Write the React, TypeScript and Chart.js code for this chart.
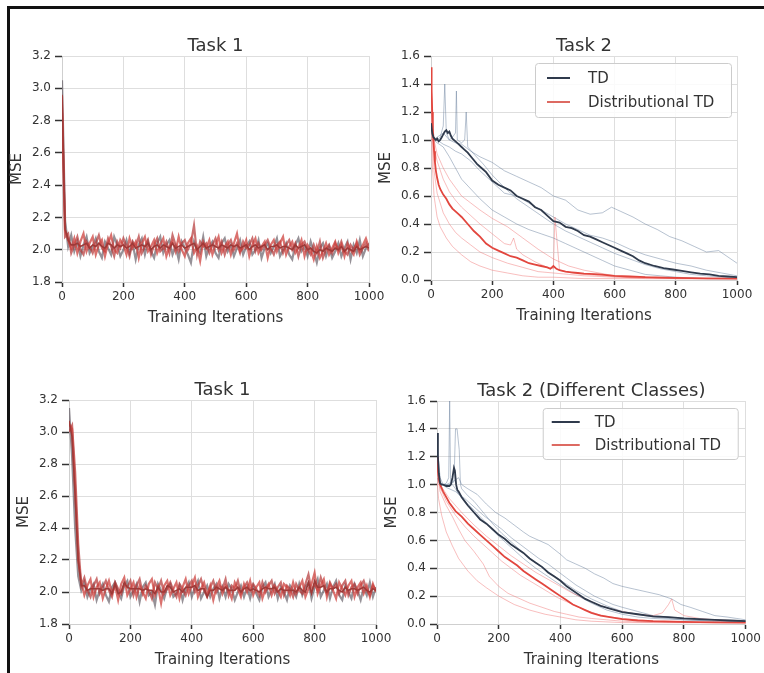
import React, { useEffect, useRef } from "react";
import { Chart, registerables } from "chart.js";
Chart.register(...registerables);

const FONT = "'DejaVu Sans', sans-serif";

// ---------- Task 1 (sampled every 10 iterations) ----------
const T1_ITERS = Array.from({ length: 101 }, (_, i) => i * 10);

const TL_RUN_A = [
  2.95, 2.12, 2.06, 2.01, 2.07, 1.98, 2.05, 2.1, 1.99, 2.04,
  2.08, 1.97, 2.03, 2.06, 1.96, 2.04, 2.09, 2.0, 1.98, 2.06,
  2.03, 1.97, 2.07, 2.01, 2.05, 1.95, 2.04, 2.08, 1.99, 2.02,
  2.06, 1.98, 2.03, 2.07, 1.96, 2.02, 2.05, 1.99, 2.08, 2.0,
  1.96, 2.04, 2.07, 1.98, 2.02, 1.93, 2.05, 2.01, 2.06, 1.97,
  2.03, 2.08, 1.98, 2.02, 2.05, 1.97, 2.04, 2.1, 1.99, 2.01,
  2.06, 1.96, 2.03, 2.07, 1.98, 2.02, 2.05, 1.95, 2.03, 2.06,
  1.99, 2.04, 2.08, 1.97, 2.02, 2.05, 1.98, 2.01, 2.06, 1.96,
  2.03, 2.0, 1.94, 2.02, 1.95, 1.99, 2.04, 1.97, 2.01, 2.05,
  1.98, 2.03, 1.96, 2.04, 2.0, 1.97, 2.05, 1.99, 2.03, 2.07,
  2.01,
];
const TL_RUN_B = [
  3.05, 2.18, 2.02, 2.09, 1.99, 2.05, 1.96, 2.03, 2.08, 1.98,
  2.02, 2.07, 1.99, 1.95, 2.05, 2.01, 1.97, 2.08, 2.03, 1.96,
  2.0, 2.06, 1.98, 2.04, 1.94, 2.03, 2.07, 1.97, 2.05, 1.99,
  1.95, 2.04, 2.08, 1.98, 2.03, 2.06, 1.97, 2.02, 1.94, 2.05,
  2.01, 1.97, 1.92, 2.05, 2.0, 1.98, 2.08, 1.96, 2.02, 2.05,
  1.98, 1.95, 2.04, 2.07, 1.99, 2.03, 1.96, 2.01, 2.06, 1.97,
  2.02, 2.05, 1.97, 2.0, 2.06, 1.95, 2.01, 2.04, 1.98, 2.02,
  2.07, 1.96, 2.0, 2.04, 1.97, 1.94, 2.03, 2.07, 1.99, 2.02,
  1.96, 2.05, 1.99, 1.92, 2.01, 2.04, 1.96, 2.02, 1.95, 1.99,
  2.04, 1.96, 2.01, 2.05, 1.94, 2.03, 1.98, 2.06, 1.96, 2.01,
  2.04,
];
const TL_RUN_C = [
  2.85, 2.08, 2.1, 1.98, 2.03, 2.08, 2.0, 1.97, 2.05, 2.02,
  1.98, 2.04, 2.09, 2.01, 1.99, 2.07, 2.02, 1.96, 2.05, 2.01,
  2.07, 2.02, 1.96, 2.05, 2.02, 2.08, 1.98, 2.02, 2.06, 1.97,
  2.03, 2.07, 1.99, 2.01, 2.05, 1.98, 2.09, 2.03, 1.99, 2.04,
  2.06, 2.0, 2.04, 2.15, 1.97, 2.05, 2.02, 2.04, 1.98, 2.03,
  2.07, 2.0, 2.05, 1.97, 2.03, 2.06, 2.0, 2.04, 1.98, 2.05,
  2.01, 2.03, 2.07, 1.99, 2.04, 2.0, 2.03, 2.06, 2.01, 1.97,
  2.03, 2.05, 1.98, 2.03, 2.06, 2.0, 2.04, 1.96, 2.03, 2.05,
  2.0, 1.97, 2.03, 1.98, 2.05, 1.95, 2.0, 2.03, 1.98, 2.04,
  2.0, 2.05, 1.99, 1.97, 2.03, 2.0, 2.04, 1.97, 2.01, 2.04,
  1.99,
];
const TL_MEAN = [
  2.96, 2.13, 2.06, 2.03, 2.03, 2.04, 2.02, 2.03, 2.04, 2.01,
  2.03, 2.02, 2.04, 2.02, 2.01, 2.04, 2.03, 2.01, 2.03, 2.02,
  2.03, 2.01, 2.02, 2.04, 2.01, 2.02, 2.03, 2.02, 2.04, 2.0,
  2.02, 2.03, 2.01, 2.03, 2.02, 2.01, 2.04, 2.01, 2.02, 2.03,
  2.01, 2.02, 2.03, 2.04, 2.0, 2.02, 2.04, 2.01, 2.02, 2.03,
  2.02, 2.01, 2.03, 2.02, 2.01, 2.03, 2.02, 2.03, 2.01, 2.02,
  2.03, 2.0, 2.02, 2.03, 2.01, 2.02, 2.03, 2.0, 2.02, 2.02,
  2.03, 2.01, 2.02, 2.02, 2.01, 2.0, 2.03, 2.01, 2.02, 2.03,
  2.0, 2.01, 1.99, 1.98, 2.0, 1.99, 2.01, 2.0, 1.99, 2.01,
  2.0, 2.02, 1.99, 2.01, 2.0, 1.99, 2.02, 2.0, 2.01, 2.02,
  2.01,
];

const BL_RUN_A = [
  3.05, 3.02, 2.65, 2.2, 2.06, 1.98, 2.04, 2.08, 1.97, 2.03,
  2.06, 1.96, 2.02, 2.07, 1.99, 2.04, 1.95, 2.05, 2.09, 1.98,
  2.02, 2.06, 1.97, 2.04, 2.0, 1.96, 2.05, 2.08, 1.98, 2.03,
  1.93, 2.04, 2.07, 1.98, 2.02, 2.06, 1.96, 2.03, 2.08, 1.99,
  2.04, 2.09, 1.97, 2.02, 2.06, 1.98, 2.04, 1.95, 2.03, 2.07,
  1.99, 2.04, 2.01, 1.96, 2.06, 2.02, 1.97, 2.05, 2.0, 2.07,
  1.98, 2.03, 2.06, 1.96, 2.02, 2.05, 1.98, 2.04, 2.01, 1.97,
  2.05, 2.03, 1.98, 2.06, 1.99, 2.03, 2.07, 1.97, 2.02, 2.05,
  2.12, 1.99, 2.04, 2.08, 1.97, 2.05, 2.01, 1.96, 2.06, 2.02,
  1.98, 2.04, 2.07, 1.97, 2.03, 2.06, 1.99, 2.04, 1.97, 2.05,
  2.0,
];
const BL_RUN_B = [
  3.15, 2.85, 2.4, 2.1, 2.01, 2.06, 1.97, 2.02, 2.05, 1.95,
  2.01, 2.05, 1.98, 1.94, 2.03, 2.06, 2.0, 1.96, 2.04, 2.07,
  1.97, 2.01, 2.05, 1.94, 2.03, 2.06, 1.98, 2.0, 1.92, 2.05,
  2.01, 1.96, 2.03, 2.05, 1.97, 1.99, 2.04, 1.95, 2.02, 2.06,
  1.97, 2.03, 2.07, 1.96, 2.0, 2.04, 1.97, 2.02, 2.05, 1.96,
  2.03, 1.97, 2.05, 2.02, 1.95, 2.0, 2.04, 1.97, 2.03, 1.96,
  2.04, 1.99, 1.95, 2.03, 2.06, 1.97, 2.01, 2.05, 1.96, 2.03,
  2.0, 1.95, 2.04, 2.01, 1.97, 2.05, 1.98, 2.03, 2.06, 1.96,
  2.03, 2.08, 1.97, 2.01, 2.05, 1.96, 2.03, 2.07, 1.98, 1.95,
  2.04, 2.0, 1.96, 2.05, 2.01, 1.95, 2.03, 1.98, 2.06, 1.97,
  2.03,
];
const BL_RUN_C = [
  3.0, 3.04, 2.75, 2.3, 2.04, 2.09, 2.01, 1.97, 2.04, 2.08,
  1.99, 2.03, 2.07, 2.01, 1.97, 2.06, 2.02, 1.99, 2.05, 2.03,
  2.07, 1.98, 2.04, 2.08, 1.99, 2.04, 2.01, 1.96, 2.06, 2.02,
  2.07, 1.99, 2.02, 2.06, 2.01, 1.97, 2.05, 2.02, 1.98, 2.04,
  2.07, 2.0, 2.04, 2.08, 2.01, 1.97, 2.03, 2.07, 2.0, 2.04,
  2.02, 2.08, 1.98, 2.04, 2.02, 2.07, 1.99, 2.03, 2.06, 2.01,
  2.05, 2.02, 1.98, 2.06, 2.0, 2.04, 2.07, 1.99, 2.03, 2.06,
  1.98, 2.04, 2.02, 1.97, 2.05, 2.01, 1.99, 2.05, 2.11, 2.01,
  2.05, 2.01, 2.09, 2.03, 1.99, 2.06, 2.02, 2.05, 1.99, 2.04,
  2.07, 1.98, 2.03, 2.05, 1.99, 2.04, 2.07, 2.01, 1.98, 2.04,
  2.01,
];
const BL_MEAN = [
  3.07, 2.97, 2.6, 2.2, 2.04, 2.04, 2.01, 2.02, 2.02, 2.02,
  2.02, 2.01, 2.02, 2.02, 1.99, 2.05, 1.99, 2.0, 2.06, 2.03,
  2.02, 2.02, 2.02, 2.02, 2.01, 2.02, 2.01, 2.01, 1.99, 2.03,
  2.0, 2.0, 2.04, 2.03, 2.0, 2.01, 2.02, 2.0, 2.03, 2.03,
  2.03, 2.04, 2.01, 2.02, 2.02, 1.97, 2.01, 2.01, 2.03, 2.02,
  2.01, 2.03, 2.01, 2.01, 2.01, 2.03, 2.0, 2.02, 2.03, 2.01,
  2.02, 2.01, 2.0, 2.02, 2.03, 2.02, 2.02, 2.03, 2.0, 2.02,
  2.01, 2.01, 2.01, 2.01, 2.0, 2.03, 2.01, 2.0, 2.06, 1.99,
  2.07, 2.03, 2.03, 2.04, 2.0, 2.02, 2.02, 2.03, 2.01, 2.0,
  2.03, 2.01, 2.02, 2.02, 2.01, 2.02, 2.03, 2.01, 2.0, 2.02,
  2.01,
];

// ---------- Task 2 (top right) ----------
const TR_TD_MEAN_X = [0, 4, 8, 12, 16, 20, 25, 30, 35, 40, 45, 50, 55, 60, 65, 70, 80, 90, 100, 110, 120, 135, 150, 165, 180, 200, 220, 240, 260, 280, 300, 320, 340, 360, 380, 400, 420, 440, 460, 480, 500, 520, 540, 560, 580, 600, 620, 640, 660, 680, 700, 730, 760, 790, 820, 850, 880, 910, 940, 970, 1000];
const TR_TD_MEAN_Y = [1.12, 1.05, 1.02, 1.01, 1.0, 1.01, 0.99, 1.0, 1.02, 1.04, 1.06, 1.07, 1.05, 1.06, 1.03, 1.01, 0.99, 0.97, 0.95, 0.93, 0.91, 0.87, 0.83, 0.8, 0.77, 0.71, 0.68, 0.66, 0.64, 0.6, 0.58, 0.56, 0.52, 0.5, 0.46, 0.42, 0.41, 0.38, 0.37, 0.35, 0.32, 0.31, 0.29, 0.27, 0.25, 0.23, 0.21, 0.19, 0.17, 0.14, 0.12, 0.1, 0.085, 0.075, 0.065, 0.055, 0.045, 0.04, 0.03, 0.025, 0.02];
const TR_DTD_MEAN_X = [0, 2, 4, 6, 8, 10, 13, 16, 20, 25, 30, 40, 50, 60, 70, 80, 90, 100, 120, 140, 160, 180, 200, 220, 240, 260, 280, 300, 320, 340, 360, 380, 390, 400, 410, 420, 440, 460, 480, 500, 550, 600, 650, 700, 800, 900, 1000];
const TR_DTD_MEAN_Y = [1.52, 1.35, 1.2, 1.08, 1.0, 0.92, 0.84, 0.78, 0.73, 0.68, 0.65, 0.61, 0.58, 0.54, 0.51, 0.49, 0.47, 0.45, 0.4, 0.35, 0.31, 0.26, 0.23, 0.21, 0.19, 0.17, 0.16, 0.14, 0.12, 0.11, 0.1, 0.09, 0.08, 0.1, 0.08, 0.07, 0.06, 0.055, 0.05, 0.045, 0.04, 0.03, 0.025, 0.02, 0.015, 0.012, 0.01];

const TR_TD_RUN1_X = [0, 10, 20, 40, 60, 80, 100, 130, 160, 200, 240, 280, 320, 360, 400, 440, 480, 520, 560, 590, 620, 660, 700, 740, 780, 820, 860, 900, 940, 980, 1000];
const TR_TD_RUN1_Y = [1.1, 1.0, 1.02, 1.05, 1.0, 0.98, 0.97, 0.92, 0.88, 0.84, 0.78, 0.74, 0.7, 0.66, 0.6, 0.57, 0.5, 0.47, 0.48, 0.52, 0.49, 0.45, 0.4, 0.36, 0.31, 0.28, 0.24, 0.2, 0.21, 0.15, 0.12];
const TR_TD_RUN2_X = [0, 10, 20, 30, 40, 45, 50, 60, 70, 80, 83, 86, 100, 110, 115, 120, 140, 170, 200, 240, 280, 320, 360, 400, 440, 480, 520, 560, 600, 650, 700, 750, 800, 850, 900, 950, 1000];
const TR_TD_RUN2_Y = [1.05, 1.0, 1.0, 1.02, 1.1, 1.4, 1.05, 1.0, 1.02, 1.05, 1.35, 1.0, 0.98, 1.0, 1.2, 0.95, 0.9, 0.83, 0.75, 0.66, 0.58, 0.52, 0.46, 0.4, 0.35, 0.31, 0.27, 0.23, 0.19, 0.15, 0.11, 0.08, 0.06, 0.04, 0.03, 0.02, 0.02];
const TR_TD_RUN3_X = [0, 10, 20, 40, 60, 80, 100, 130, 160, 200, 240, 280, 320, 360, 400, 440, 480, 520, 560, 600, 650, 700, 750, 800, 900, 1000];
const TR_TD_RUN3_Y = [1.08, 1.0, 0.98, 0.95, 0.88, 0.8, 0.72, 0.65, 0.58, 0.5, 0.45, 0.4, 0.36, 0.33, 0.3, 0.26, 0.22, 0.18, 0.14, 0.1, 0.07, 0.04, 0.03, 0.02, 0.01, 0.01];
const TR_TD_RUN4_X = [0, 10, 20, 40, 60, 80, 100, 130, 160, 200, 240, 280, 320, 360, 400, 440, 480, 520, 560, 600, 650, 700, 750, 800, 850, 900, 950, 1000];
const TR_TD_RUN4_Y = [1.0, 1.01, 1.0, 0.97, 0.95, 0.92, 0.9, 0.85, 0.78, 0.7, 0.62, 0.6, 0.55, 0.5, 0.45, 0.4, 0.36, 0.32, 0.3, 0.27, 0.22, 0.18, 0.15, 0.12, 0.1, 0.07, 0.05, 0.03];

const TR_DTD_RUN1_X = [0, 5, 10, 20, 30, 50, 70, 100, 130, 160, 200, 250, 300, 350, 400, 500, 600, 800, 1000];
const TR_DTD_RUN1_Y = [1.2, 0.8, 0.6, 0.45, 0.38, 0.3, 0.24, 0.18, 0.13, 0.1, 0.07, 0.05, 0.03, 0.02, 0.02, 0.01, 0.01, 0.01, 0.01];
const TR_DTD_RUN2_X = [0, 5, 10, 20, 40, 60, 80, 100, 130, 160, 200, 240, 260, 270, 280, 300, 340, 380, 400, 405, 420, 460, 500, 560, 620, 700, 800, 1000];
const TR_DTD_RUN2_Y = [1.3, 1.05, 0.95, 0.85, 0.72, 0.63, 0.57, 0.52, 0.46, 0.4, 0.33, 0.26, 0.25, 0.3, 0.22, 0.18, 0.13, 0.09, 0.08, 0.45, 0.07, 0.05, 0.04, 0.03, 0.02, 0.01, 0.01, 0.01];
const TR_DTD_RUN3_X = [0, 5, 10, 20, 40, 60, 80, 100, 130, 160, 200, 250, 300, 350, 400, 450, 500, 600, 700, 800, 1000];
const TR_DTD_RUN3_Y = [1.45, 1.0, 0.78, 0.62, 0.48, 0.4, 0.34, 0.3, 0.25, 0.2, 0.16, 0.12, 0.09, 0.06, 0.05, 0.04, 0.03, 0.02, 0.02, 0.01, 0.01];
const TR_DTD_RUN4_X = [0, 5, 10, 20, 40, 60, 80, 100, 130, 160, 200, 250, 300, 350, 400, 450, 500, 550, 600, 650, 700, 800, 900, 1000];
const TR_DTD_RUN4_Y = [1.5, 1.15, 1.0, 0.9, 0.8, 0.72, 0.66, 0.6, 0.55, 0.5, 0.44, 0.38, 0.3, 0.22, 0.15, 0.1, 0.07, 0.05, 0.03, 0.02, 0.02, 0.01, 0.01, 0.01];

// ---------- Task 2 (Different Classes) ----------
const BR_TD_MEAN_X = [0, 3, 6, 10, 15, 20, 30, 40, 45, 50, 55, 58, 62, 66, 70, 80, 90, 100, 120, 140, 160, 180, 200, 220, 240, 260, 280, 300, 320, 340, 360, 380, 400, 420, 440, 460, 480, 500, 530, 560, 600, 650, 700, 750, 800, 850, 900, 950, 1000];
const BR_TD_MEAN_Y = [1.37, 1.2, 1.08, 1.01, 1.0, 1.0, 0.99, 0.99, 1.0, 1.05, 1.12, 1.1, 1.0, 0.96, 0.95, 0.91, 0.88, 0.85, 0.8, 0.75, 0.72, 0.68, 0.64, 0.61, 0.57, 0.54, 0.51, 0.47, 0.44, 0.41, 0.37, 0.34, 0.31, 0.27, 0.24, 0.21, 0.18, 0.16, 0.13, 0.11, 0.085, 0.07, 0.055, 0.05, 0.04, 0.035, 0.03, 0.025, 0.02];
const BR_DTD_MEAN_X = [0, 3, 6, 10, 20, 30, 40, 60, 80, 100, 120, 140, 160, 180, 200, 220, 240, 260, 280, 300, 320, 340, 360, 380, 400, 420, 440, 460, 480, 500, 530, 560, 600, 650, 700, 800, 900, 1000];
const BR_DTD_MEAN_Y = [1.2, 1.1, 1.04, 1.0, 0.95, 0.91, 0.87, 0.81, 0.77, 0.72, 0.68, 0.64, 0.6, 0.56, 0.52, 0.48, 0.45, 0.42, 0.38, 0.35, 0.32, 0.29, 0.26, 0.23, 0.2, 0.17, 0.14, 0.12, 0.1, 0.08, 0.06, 0.05, 0.035, 0.025, 0.02, 0.015, 0.012, 0.01];

const BR_TD_RUN1_X = [0, 10, 30, 50, 70, 80, 100, 130, 160, 190, 220, 250, 280, 300, 330, 360, 400, 420, 450, 480, 510, 540, 570, 600, 640, 680, 720, 760, 790, 820, 860, 900, 940, 970, 1000];
const BR_TD_RUN1_Y = [1.05, 1.0, 1.0, 1.02, 1.05, 1.0, 0.97, 0.93, 0.86, 0.8, 0.76, 0.71, 0.66, 0.63, 0.6, 0.57, 0.5, 0.46, 0.43, 0.4, 0.36, 0.33, 0.29, 0.27, 0.25, 0.23, 0.21, 0.18, 0.14, 0.12, 0.09, 0.06, 0.05, 0.04, 0.03];
const BR_TD_RUN2_X = [0, 10, 20, 30, 38, 41, 44, 50, 60, 70, 90, 110, 140, 170, 200, 240, 280, 320, 360, 400, 450, 500, 550, 600, 650, 700, 800, 900, 1000];
const BR_TD_RUN2_Y = [1.1, 1.0, 1.0, 1.01, 1.05, 1.6, 1.02, 1.0, 0.97, 0.93, 0.88, 0.84, 0.77, 0.7, 0.63, 0.55, 0.47, 0.4, 0.34, 0.28, 0.21, 0.15, 0.1, 0.07, 0.05, 0.04, 0.03, 0.02, 0.02];
const BR_TD_RUN3_X = [0, 10, 20, 40, 55, 60, 65, 72, 76, 80, 100, 120, 150, 180, 210, 250, 290, 330, 370, 410, 450, 500, 550, 600, 700, 800, 900, 1000];
const BR_TD_RUN3_Y = [1.3, 1.05, 1.0, 1.0, 1.02, 1.4, 1.4, 1.25, 1.0, 0.97, 0.92, 0.88, 0.8, 0.72, 0.65, 0.57, 0.49, 0.42, 0.36, 0.3, 0.24, 0.18, 0.13, 0.09, 0.05, 0.03, 0.02, 0.02];
const BR_TD_RUN4_X = [0, 10, 30, 60, 90, 120, 150, 180, 210, 240, 270, 300, 330, 360, 390, 420, 450, 480, 510, 540, 570, 600, 650, 700, 750, 800, 850, 900, 950, 1000];
const BR_TD_RUN4_Y = [1.15, 1.02, 0.98, 0.95, 0.9, 0.84, 0.78, 0.73, 0.68, 0.62, 0.57, 0.52, 0.47, 0.43, 0.38, 0.33, 0.28, 0.24, 0.2, 0.17, 0.14, 0.12, 0.09, 0.06, 0.05, 0.04, 0.03, 0.03, 0.02, 0.02];

const BR_DTD_RUN1_X = [0, 10, 30, 50, 70, 90, 120, 150, 170, 200, 230, 260, 300, 340, 380, 420, 460, 500, 550, 600, 700, 800, 1000];
const BR_DTD_RUN1_Y = [1.1, 0.95, 0.85, 0.77, 0.68, 0.6, 0.52, 0.43, 0.34, 0.27, 0.22, 0.19, 0.15, 0.12, 0.09, 0.07, 0.05, 0.04, 0.03, 0.02, 0.01, 0.01, 0.01];
const BR_DTD_RUN2_X = [0, 10, 40, 80, 120, 160, 200, 240, 280, 320, 360, 400, 440, 480, 520, 560, 600, 650, 700, 730, 750, 760, 770, 800, 850, 900, 1000];
const BR_DTD_RUN2_Y = [1.15, 1.0, 0.9, 0.8, 0.71, 0.63, 0.56, 0.49, 0.43, 0.37, 0.32, 0.27, 0.22, 0.18, 0.14, 0.11, 0.09, 0.07, 0.06, 0.08, 0.14, 0.18, 0.1, 0.06, 0.04, 0.03, 0.02];
const BR_DTD_RUN3_X = [0, 10, 30, 60, 90, 120, 150, 180, 210, 240, 270, 300, 330, 360, 390, 420, 450, 480, 520, 560, 600, 700, 800, 1000];
const BR_DTD_RUN3_Y = [1.18, 0.98, 0.88, 0.78, 0.7, 0.63, 0.57, 0.51, 0.45, 0.4, 0.35, 0.31, 0.27, 0.23, 0.19, 0.16, 0.13, 0.1, 0.07, 0.05, 0.04, 0.02, 0.01, 0.01];
const BR_DTD_RUN4_X = [0, 5, 15, 30, 50, 70, 100, 130, 160, 200, 250, 300, 350, 400, 450, 500, 600, 800, 1000];
const BR_DTD_RUN4_Y = [1.05, 0.9, 0.78, 0.66, 0.56, 0.47, 0.38, 0.31, 0.26, 0.2, 0.14, 0.1, 0.07, 0.05, 0.03, 0.02, 0.01, 0.01, 0.01];

const X_TICK_STEP = 200;
const LEGEND_LABELS = ["TD", "Distributional TD"];

// ---------- styles ----------
const C_TD_MEAN = "#2f3a4c";
const C_DTD_MEAN = "#e2463e";
const C_TD_RUN = "rgba(95,120,150,0.45)";
const C_DTD_RUN = "rgba(240,110,110,0.45)";
const C_T1_MEAN = "#9e3a38";
const C_T1_RED = "rgba(205,66,62,0.75)";
const C_T1_RED2 = "rgba(180,52,52,0.7)";
const C_T1_DARK = "rgba(80,72,82,0.6)";
const T1_W = 2.2;

type Run = { xs: number[]; ys: number[]; color: string; width: number };
type Area = { left: number; top: number; right: number; bottom: number };
type LegendCfg = { offRight: number; offTop: number; w: number; h: number; l0: number; l1: number; tx: number; y1: number; y2: number };
type PanelCfg = {
  title: string;
  area: Area;
  yMin: number;
  yMax: number;
  runs: Run[];
  padRight: number;
  legend?: LegendCfg;
};

const t1 = (ys: number[], color: string, width: number): Run => ({ xs: T1_ITERS, ys, color, width });

const PANELS: PanelCfg[] = [
  {
    title: "Task 1",
    area: { left: 62, top: 56, right: 369, bottom: 282 },
    yMin: 1.8,
    yMax: 3.2,
    padRight: 20,
    runs: [
      t1(TL_MEAN, C_T1_MEAN, 1.6),
      t1(TL_RUN_A, C_T1_RED, T1_W),
      t1(TL_RUN_C, C_T1_RED2, T1_W),
      t1(TL_RUN_B, C_T1_DARK, T1_W),
    ],
  },
  {
    title: "Task 2",
    area: { left: 431, top: 56, right: 737, bottom: 280 },
    yMin: 0,
    yMax: 1.6,
    padRight: 20,
    legend: { offRight: 6, offTop: 7, w: 196, h: 54, l0: 12, l1: 35, tx: 53, y1: 15, y2: 39 },
    runs: [
      { xs: TR_TD_MEAN_X, ys: TR_TD_MEAN_Y, color: C_TD_MEAN, width: 1.8 },
      { xs: TR_DTD_MEAN_X, ys: TR_DTD_MEAN_Y, color: C_DTD_MEAN, width: 1.8 },
      { xs: TR_DTD_RUN1_X, ys: TR_DTD_RUN1_Y, color: C_DTD_RUN, width: 1 },
      { xs: TR_DTD_RUN2_X, ys: TR_DTD_RUN2_Y, color: C_DTD_RUN, width: 1 },
      { xs: TR_DTD_RUN3_X, ys: TR_DTD_RUN3_Y, color: C_DTD_RUN, width: 1 },
      { xs: TR_DTD_RUN4_X, ys: TR_DTD_RUN4_Y, color: C_DTD_RUN, width: 1 },
      { xs: TR_TD_RUN1_X, ys: TR_TD_RUN1_Y, color: C_TD_RUN, width: 1 },
      { xs: TR_TD_RUN2_X, ys: TR_TD_RUN2_Y, color: C_TD_RUN, width: 1 },
      { xs: TR_TD_RUN3_X, ys: TR_TD_RUN3_Y, color: C_TD_RUN, width: 1 },
      { xs: TR_TD_RUN4_X, ys: TR_TD_RUN4_Y, color: C_TD_RUN, width: 1 },
    ],
  },
  {
    title: "Task 1",
    area: { left: 69, top: 400, right: 376, bottom: 624 },
    yMin: 1.8,
    yMax: 3.2,
    padRight: 20,
    runs: [
      t1(BL_MEAN, C_T1_MEAN, 1.6),
      t1(BL_RUN_A, C_T1_RED, T1_W),
      t1(BL_RUN_C, C_T1_RED2, T1_W),
      t1(BL_RUN_B, C_T1_DARK, T1_W),
    ],
  },
  {
    title: "Task 2 (Different Classes)",
    area: { left: 437, top: 401, right: 746, bottom: 624 },
    yMin: 0,
    yMax: 1.6,
    padRight: 18,
    legend: { offRight: 8, offTop: 7, w: 195, h: 51, l0: 9, l1: 37, tx: 52, y1: 14, y2: 37 },
    runs: [
      { xs: BR_TD_MEAN_X, ys: BR_TD_MEAN_Y, color: C_TD_MEAN, width: 1.8 },
      { xs: BR_DTD_MEAN_X, ys: BR_DTD_MEAN_Y, color: C_DTD_MEAN, width: 1.8 },
      { xs: BR_DTD_RUN1_X, ys: BR_DTD_RUN1_Y, color: C_DTD_RUN, width: 1 },
      { xs: BR_DTD_RUN2_X, ys: BR_DTD_RUN2_Y, color: C_DTD_RUN, width: 1 },
      { xs: BR_DTD_RUN3_X, ys: BR_DTD_RUN3_Y, color: C_DTD_RUN, width: 1 },
      { xs: BR_DTD_RUN4_X, ys: BR_DTD_RUN4_Y, color: C_DTD_RUN, width: 1 },
      { xs: BR_TD_RUN1_X, ys: BR_TD_RUN1_Y, color: C_TD_RUN, width: 1 },
      { xs: BR_TD_RUN2_X, ys: BR_TD_RUN2_Y, color: C_TD_RUN, width: 1 },
      { xs: BR_TD_RUN3_X, ys: BR_TD_RUN3_Y, color: C_TD_RUN, width: 1 },
      { xs: BR_TD_RUN4_X, ys: BR_TD_RUN4_Y, color: C_TD_RUN, width: 1 },
    ],
  },
];

const PAD_L = 62;
const PAD_T = 40;
const PAD_B = 50;

function Panel({ cfg }: { cfg: PanelCfg }) {
  const ref = useRef<HTMLCanvasElement>(null);
  const w = cfg.area.right - cfg.area.left + PAD_L + cfg.padRight;
  const h = cfg.area.bottom - cfg.area.top + PAD_T + PAD_B;

  useEffect(() => {
    const decor = {
      id: "decor",
      afterDraw(chart: any) {
        const { ctx, chartArea: a } = chart;
        ctx.save();
        ctx.fillStyle = "#333";
        ctx.font = `18px ${FONT}`;
        ctx.textAlign = "center";
        ctx.textBaseline = "alphabetic";
        ctx.fillText(cfg.title, (a.left + a.right) / 2, a.top - 5);
        const lg = cfg.legend;
        if (lg) {
          const bx = a.right - lg.offRight - lg.w;
          const by = a.top + lg.offTop;
          ctx.beginPath();
          if ((ctx as any).roundRect) (ctx as any).roundRect(bx + 0.5, by + 0.5, lg.w, lg.h, 3);
          else ctx.rect(bx + 0.5, by + 0.5, lg.w, lg.h);
          ctx.fillStyle = "rgba(255,255,255,0.85)";
          ctx.fill();
          ctx.strokeStyle = "#cccccc";
          ctx.lineWidth = 1;
          ctx.stroke();
          const cols = [C_TD_MEAN, "#dd6a62"];
          const ys = [lg.y1, lg.y2];
          ctx.font = `15px ${FONT}`;
          ctx.textAlign = "left";
          ctx.textBaseline = "middle";
          LEGEND_LABELS.forEach((lab, i) => {
            ctx.beginPath();
            ctx.strokeStyle = cols[i];
            ctx.lineWidth = 2;
            ctx.moveTo(bx + lg.l0, by + ys[i]);
            ctx.lineTo(bx + lg.l1, by + ys[i]);
            ctx.stroke();
            ctx.fillStyle = "#333";
            ctx.fillText(lab, bx + lg.tx, by + ys[i] + 1);
          });
        }
        ctx.restore();
      },
    };

    const chart = new Chart(ref.current as HTMLCanvasElement, {
      type: "line",
      data: {
        datasets: cfg.runs.map((r) => ({
          data: r.xs.map((x, i) => ({ x, y: r.ys[i] })),
          borderColor: r.color,
          borderWidth: r.width,
          pointRadius: 0,
          fill: false,
          tension: 0,
        })),
      },
      options: {
        responsive: false,
        animation: false,
        devicePixelRatio: 1,
        events: [],
        layout: { padding: { left: 0, top: PAD_T, right: cfg.padRight, bottom: 0 } },
        plugins: { legend: { display: false }, tooltip: { enabled: false }, title: { display: false } },
        scales: {
          x: {
            type: "linear",
            min: 0,
            max: 1000,
            ticks: {
              stepSize: X_TICK_STEP,
              color: "#333",
              font: { family: FONT, size: 12 },
              padding: 3,
              maxRotation: 0,
              callback: (v: any) => String(Math.round(Number(v))),
            },
            grid: { color: "#dedede", tickColor: "#333", tickLength: 5, tickWidth: 1.5 },
            border: { color: "#cfcfcf" },
            title: { display: true, text: "Training Iterations", color: "#333", font: { family: FONT, size: 15 }, padding: { top: 4, bottom: 5 } },
            afterFit: (s: any) => {
              s.height = PAD_B;
            },
          },
          y: {
            type: "linear",
            min: cfg.yMin,
            max: cfg.yMax,
            ticks: {
              stepSize: 0.2,
              color: "#333",
              font: { family: FONT, size: 12 },
              padding: 4,
              callback: (v: any) => Number(v).toFixed(1),
            },
            grid: { color: "#dedede", tickColor: "#333", tickLength: 7, tickWidth: 1.5 },
            border: { color: "#cfcfcf" },
            title: { display: true, text: "MSE", color: "#333", font: { family: FONT, size: 15 }, padding: { top: 8, bottom: 0 } },
            afterFit: (s: any) => {
              s.width = PAD_L;
            },
          },
        },
      } as any,
      plugins: [decor],
    });
    return () => chart.destroy();
  }, []);

  return (
    <canvas
      ref={ref}
      width={w}
      height={h}
      style={{ position: "absolute", left: cfg.area.left - PAD_L, top: cfg.area.top - PAD_T, width: w, height: h }}
    />
  );
}

export default function App() {
  return (
    <div style={{ position: "absolute", left: 0, top: 0, width: 764, height: 673, overflow: "hidden", background: "#fff" }}>
      <div
        style={{
          position: "absolute",
          left: 7,
          top: 6,
          width: 800,
          height: 700,
          borderLeft: "3px solid #111",
          borderTop: "3px solid #111",
        }}
      />
      {PANELS.map((p, i) => (
        <Panel key={i} cfg={p} />
      ))}
    </div>
  );
}
